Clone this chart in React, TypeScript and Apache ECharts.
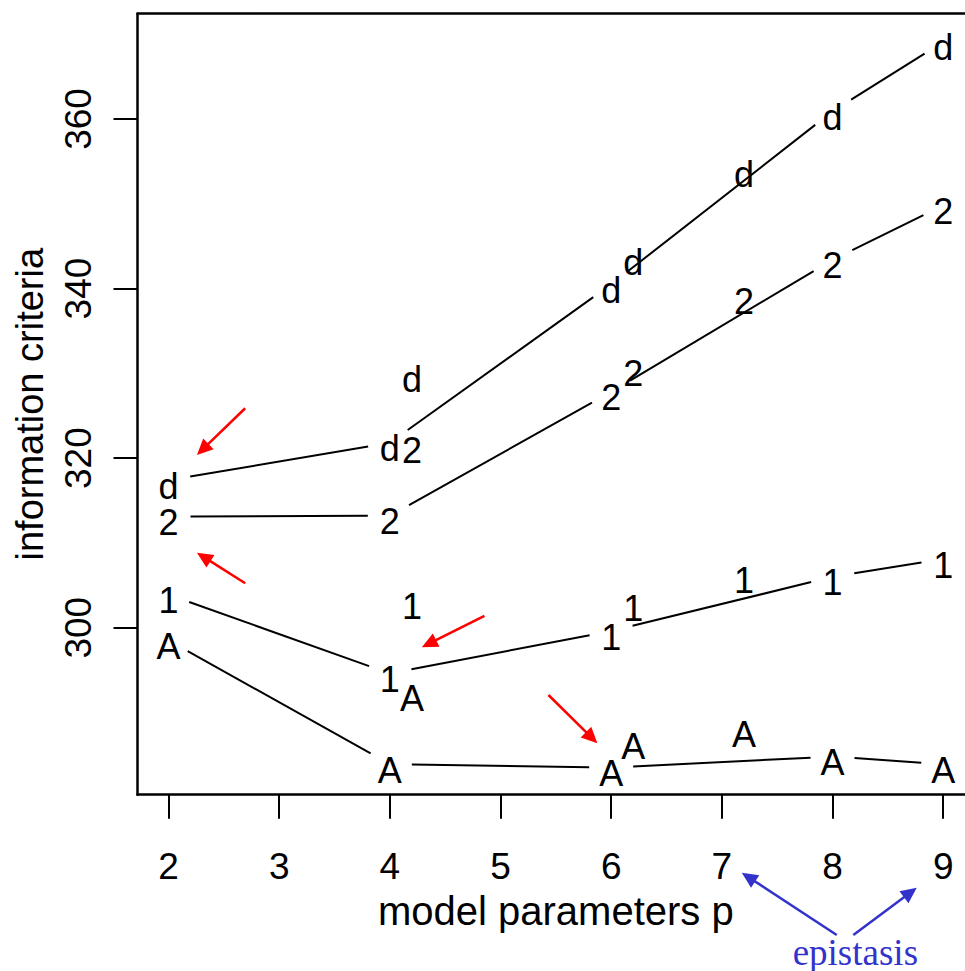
import React, { useEffect, useRef } from "react";
import * as echarts from "echarts";

// model sizes (x) and information-criterion values (y) for the connected models
const pMain = [2, 4, 6, 8, 9];
const mainA = [298.5, 283.9, 283.5, 284.8, 283.9];
const main1 = [303.9, 294.6, 299.6, 306.0, 308.1];
const main2 = [313.1, 313.2, 327.8, 343.4, 349.8];
const mainD = [317.4, 321.8, 340.5, 360.9, 369.1];

// epistasis models (unconnected points)
const pEpi = [4.2, 6.2, 7.2];
const epiA = [292.3, 286.7, 288.1];
const epi1 = [303.2, 303.0, 306.3];
const epi2 = [321.6, 330.7, 339.2];
const epiD = [330.0, 343.8, 354.2];

const symbolChars = ["A", "1", "2", "d"];
const xTicks = [2, 3, 4, 5, 6, 7, 8, 9];
const yTicks = [300, 320, 340, 360];

// annotation arrows in data units: [fromP, fromIC, toP, toIC]
const redArrows = [
  [2.693, 325.88, 2.257, 320.37],
  [2.693, 305.24, 2.257, 308.85],
  [4.855, 301.38, 4.289, 297.69],
  [5.433, 292.06, 5.875, 286.36],
];
const blueArrows = [
  [8.038, 263.75, 7.18, 271.1],
  [8.188, 263.75, 8.761, 269.33],
];
const noteText = "epistasis";
const notePos = [8.206, 261.7];

const X_MIN = 1.72;
const X_MAX = 9.28;
const Y_MIN = 280.3;
const Y_MAX = 372.42;

const SANS = '"Liberation Sans", Arial, sans-serif';
const SERIF = '"Liberation Serif", "Times New Roman", serif';
const GAP = 22;
const GLYPH_DY = 6;

function segmentsOf(xs: number[], ys: number[]) {
  const out: number[][] = [];
  for (let i = 0; i < xs.length - 1; i++) out.push([xs[i], ys[i], xs[i + 1], ys[i + 1]]);
  return out;
}
function pointsOf(xs: number[], ys: number[]) {
  return xs.map((x, i) => [x, ys[i]]);
}

export default function App() {
  const ref = useRef<HTMLDivElement>(null);
  useEffect(() => {
    document.body.style.overflow = "hidden";
    const chart = echarts.init(ref.current!, undefined, { renderer: "svg" });

    const mains = [mainA, main1, main2, mainD];
    const epis = [epiA, epi1, epi2, epiD];

    const lineSeries = mains.map((ys, k) => ({
      type: "custom",
      name: "line-" + symbolChars[k],
      xAxisIndex: 0,
      yAxisIndex: 0,
      clip: false,
      encode: { x: [0, 2], y: [1, 3] },
      data: segmentsOf(pMain, ys),
      renderItem: (params: any, api: any) => {
        const a = api.coord([api.value(0), api.value(1)]);
        const b = api.coord([api.value(2), api.value(3)]);
        const dx = b[0] - a[0];
        const dy = b[1] - a[1];
        const len = Math.hypot(dx, dy);
        const ux = dx / len;
        const uy = dy / len;
        return {
          type: "line",
          shape: {
            x1: a[0] + ux * GAP,
            y1: a[1] + uy * GAP,
            x2: b[0] - ux * GAP,
            y2: b[1] - uy * GAP,
          },
          style: { stroke: "#000", lineWidth: 2 },
        };
      },
    }));

    const textSeries = mains.map((ys, k) => ({
      type: "custom",
      name: symbolChars[k],
      xAxisIndex: 0,
      yAxisIndex: 0,
      clip: false,
      encode: { x: 0, y: 1 },
      data: pointsOf(pMain, ys).concat(pointsOf(pEpi, epis[k])),
      renderItem: (params: any, api: any) => {
        const c = api.coord([api.value(0), api.value(1)]);
        return {
          type: "text",
          x: c[0],
          y: c[1] + GLYPH_DY,
          style: {
            text: symbolChars[k],
            font: "36px " + SANS,
            fill: "#000",
            align: "center",
            verticalAlign: "middle",
          },
        };
      },
    }));

    const arrowRender = (color: string) => (params: any, api: any) => {
      const a = api.coord([api.value(0), api.value(1)]);
      const b = api.coord([api.value(2), api.value(3)]);
      const dx = b[0] - a[0];
      const dy = b[1] - a[1];
      const len = Math.hypot(dx, dy);
      const ux = dx / len;
      const uy = dy / len;
      const HL = 16;
      const HW = 7.5;
      const bx = b[0] - ux * HL;
      const by = b[1] - uy * HL;
      return {
        type: "group",
        children: [
          {
            type: "line",
            shape: { x1: a[0], y1: a[1], x2: bx + ux * 3, y2: by + uy * 3 },
            style: { stroke: color, lineWidth: 2.5 },
          },
          {
            type: "polygon",
            shape: {
              points: [
                [b[0], b[1]],
                [bx - uy * HW, by + ux * HW],
                [bx + uy * HW, by - ux * HW],
              ],
            },
            style: { fill: color },
          },
        ],
      };
    };

    const option: any = {
      animation: false,
      backgroundColor: "#fff",
      grid: {
        left: 137.5,
        top: 13.7,
        right: 0.8,
        bottom: 176.3,
        containLabel: false,
        outerBoundsMode: "none",
      },
      xAxis: [
        {
          type: "value",
          position: "bottom",
          min: X_MIN,
          max: X_MAX,
          axisLine: { show: true, onZero: false, lineStyle: { color: "#000", width: 2.5 } },
          axisTick: { show: true, customValues: xTicks, length: 24, lineStyle: { color: "#000", width: 2 } },
          axisLabel: {
            customValues: xTicks,
            margin: 53,
            fontSize: 37,
            fontFamily: SANS,
            color: "#000",
            hideOverlap: false,
          },
          splitLine: { show: false },
          name: "model parameters p",
          nameLocation: "middle",
          nameGap: 96,
          nameTextStyle: { fontSize: 40, fontFamily: SANS, color: "#000" },
        },
        {
          type: "value",
          position: "top",
          min: X_MIN,
          max: X_MAX,
          axisLine: { show: true, onZero: false, lineStyle: { color: "#000", width: 2.5 } },
          axisTick: { show: false },
          axisLabel: { show: false },
          splitLine: { show: false },
        },
      ],
      yAxis: [
        {
          type: "value",
          position: "left",
          min: Y_MIN,
          max: Y_MAX,
          axisLine: { show: true, onZero: false, lineStyle: { color: "#000", width: 2.5 } },
          axisTick: { show: true, customValues: yTicks, length: 24, lineStyle: { color: "#000", width: 2 } },
          axisLabel: {
            customValues: yTicks,
            rotate: 90,
            margin: 41,
            fontSize: 37,
            fontFamily: SANS,
            color: "#000",
          },
          splitLine: { show: false },
          name: "information criteria",
          nameLocation: "middle",
          nameGap: 89,
          nameTextStyle: { fontSize: 38, fontFamily: SANS, color: "#000" },
        },
        {
          type: "value",
          position: "right",
          min: Y_MIN,
          max: Y_MAX,
          axisLine: { show: true, onZero: false, lineStyle: { color: "#000", width: 2.5 } },
          axisTick: { show: false },
          axisLabel: { show: false },
          splitLine: { show: false },
        },
      ],
      series: [
        ...lineSeries,
        ...textSeries,
        {
          type: "custom",
          name: "red-arrows",
          xAxisIndex: 0,
          yAxisIndex: 0,
          clip: false,
          encode: { x: [0, 2], y: [1, 3] },
          data: redArrows,
          renderItem: arrowRender("#ff0000"),
        },
        {
          type: "custom",
          name: "blue-arrows",
          xAxisIndex: 0,
          yAxisIndex: 0,
          clip: false,
          encode: { x: [0, 2], y: [1, 3] },
          data: blueArrows,
          renderItem: arrowRender("#3333cc"),
        },
        {
          type: "custom",
          name: "note",
          xAxisIndex: 0,
          yAxisIndex: 0,
          clip: false,
          encode: { x: 0, y: 1 },
          data: [notePos],
          renderItem: (params: any, api: any) => {
            const c = api.coord([api.value(0), api.value(1)]);
            return {
              type: "text",
              x: c[0],
              y: c[1],
              style: {
                text: noteText,
                font: "37px " + SERIF,
                fill: "#3333cc",
                align: "center",
                verticalAlign: "middle",
              },
            };
          },
        },
      ],
    };
    chart.setOption(option);
    return () => chart.dispose();
  }, []);

  return (
    <div
      ref={ref}
      style={{ position: "fixed", left: 0, top: 0, width: 975, height: 971, background: "#fff" }}
    />
  );
}
